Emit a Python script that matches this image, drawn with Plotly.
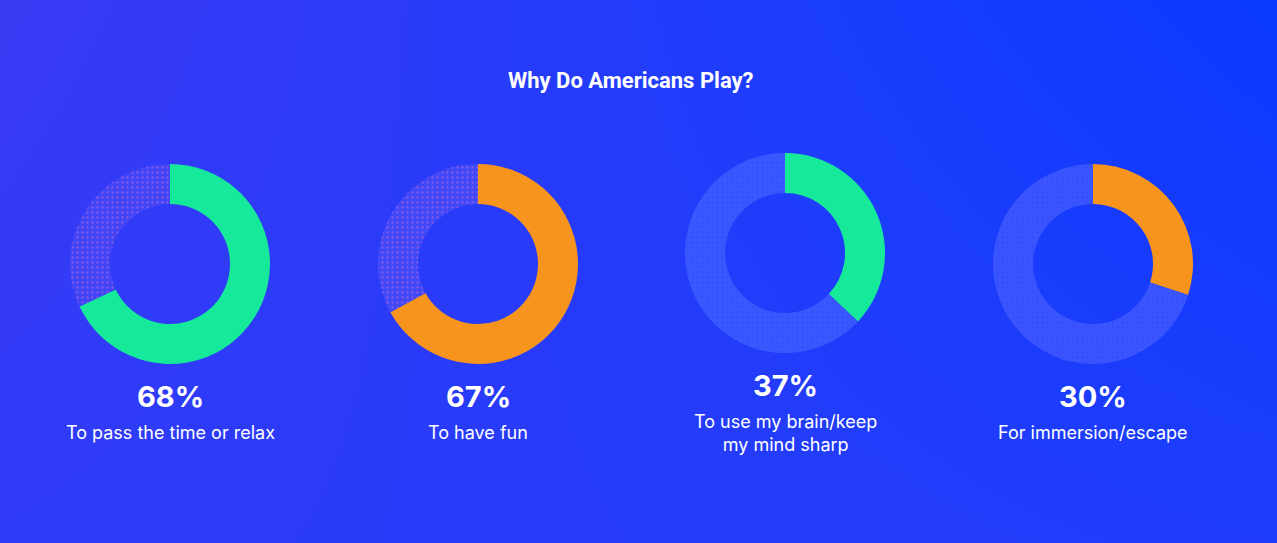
import plotly.graph_objects as go

W, H = 1277, 543

title = "Why Do Americans Play?"
percents = [68, 67, 37, 30]
reasons = ["To pass the time or relax", "To have fun",
           "To use my brain/keep<br>my mind sharp", "For immersion/escape"]
accent_colors = ["#16E99A", "#F7941E", "#16E99A", "#F7941E"]
rest_colors = ["#4145F6", "#4148F7", "#3A58FF", "#3A55FF"]
dot_colors = ["#D070D8", "#D070D8", "#2E44F0", "#2E44F0"]

# layout (pixel) positions of each donut
centers_x = [170, 478, 785, 1093]
centers_y = [264, 264, 253, 264]
radius = 100

fig = go.Figure()

# background gradient via heatmap on hidden axes
fig.add_trace(go.Heatmap(
    x=[0, 1], y=[0, 1], z=[[0.25, 0.55], [0.0, 1.0]],
    colorscale=[[0, "#3B3AF5"], [0.6, "#1C3CFB"], [1, "#0A3AFF"]],
    zsmooth="best", showscale=False, hoverinfo="skip",
    xaxis="x", yaxis="y"))

for i in range(4):
    cx, cy = centers_x[i], centers_y[i]
    fig.add_trace(go.Pie(
        values=[percents[i], 100 - percents[i]],
        labels=["yes", "other"],
        hole=0.6, sort=False, direction="clockwise", rotation=0,
        textinfo="none", hoverinfo="skip", showlegend=False,
        marker=dict(colors=[accent_colors[i], rest_colors[i]],
                    line=dict(width=0),
                    pattern=dict(shape=["", "."], fgcolor=dot_colors[i],
                                 fillmode="overlay",
                                 size=5, solidity=0.16)),
        domain=dict(x=[(cx - radius) / W, (cx + radius) / W],
                    y=[1 - (cy + radius) / H, 1 - (cy - radius) / H])))
    two_line = "<br>" in reasons[i]
    py = cy + radius + 32
    fig.add_annotation(x=cx / W, y=1 - py / H, xref="paper", yref="paper",
                       text="<b>%d%%</b>" % percents[i], showarrow=False,
                       font=dict(family="Inter, Roboto, sans-serif", size=29, color="white"),
                       xanchor="center", yanchor="middle")
    ly = py + (48 if two_line else 36)
    fig.add_annotation(x=cx / W, y=1 - ly / H, xref="paper", yref="paper",
                       text=reasons[i], showarrow=False,
                       font=dict(family="Inter, Roboto, sans-serif", size=18, color="white"),
                       xanchor="center", yanchor="middle", align="center")

fig.add_annotation(x=631 / W, y=1 - 80 / H, xref="paper", yref="paper",
                   text="<b>" + title + "</b>", showarrow=False,
                   font=dict(family="Roboto, sans-serif", size=22, color="white"),
                   xanchor="center", yanchor="middle")

fig.update_layout(
    width=W, height=H, margin=dict(l=0, r=0, t=0, b=0),
    paper_bgcolor="#2A3CF8", plot_bgcolor="#2A3CF8",
    xaxis=dict(domain=[0, 1], range=[0, 1], visible=False, fixedrange=True),
    yaxis=dict(domain=[0, 1], range=[0, 1], visible=False, fixedrange=True),
    showlegend=False)

fig.write_html("out.html")
